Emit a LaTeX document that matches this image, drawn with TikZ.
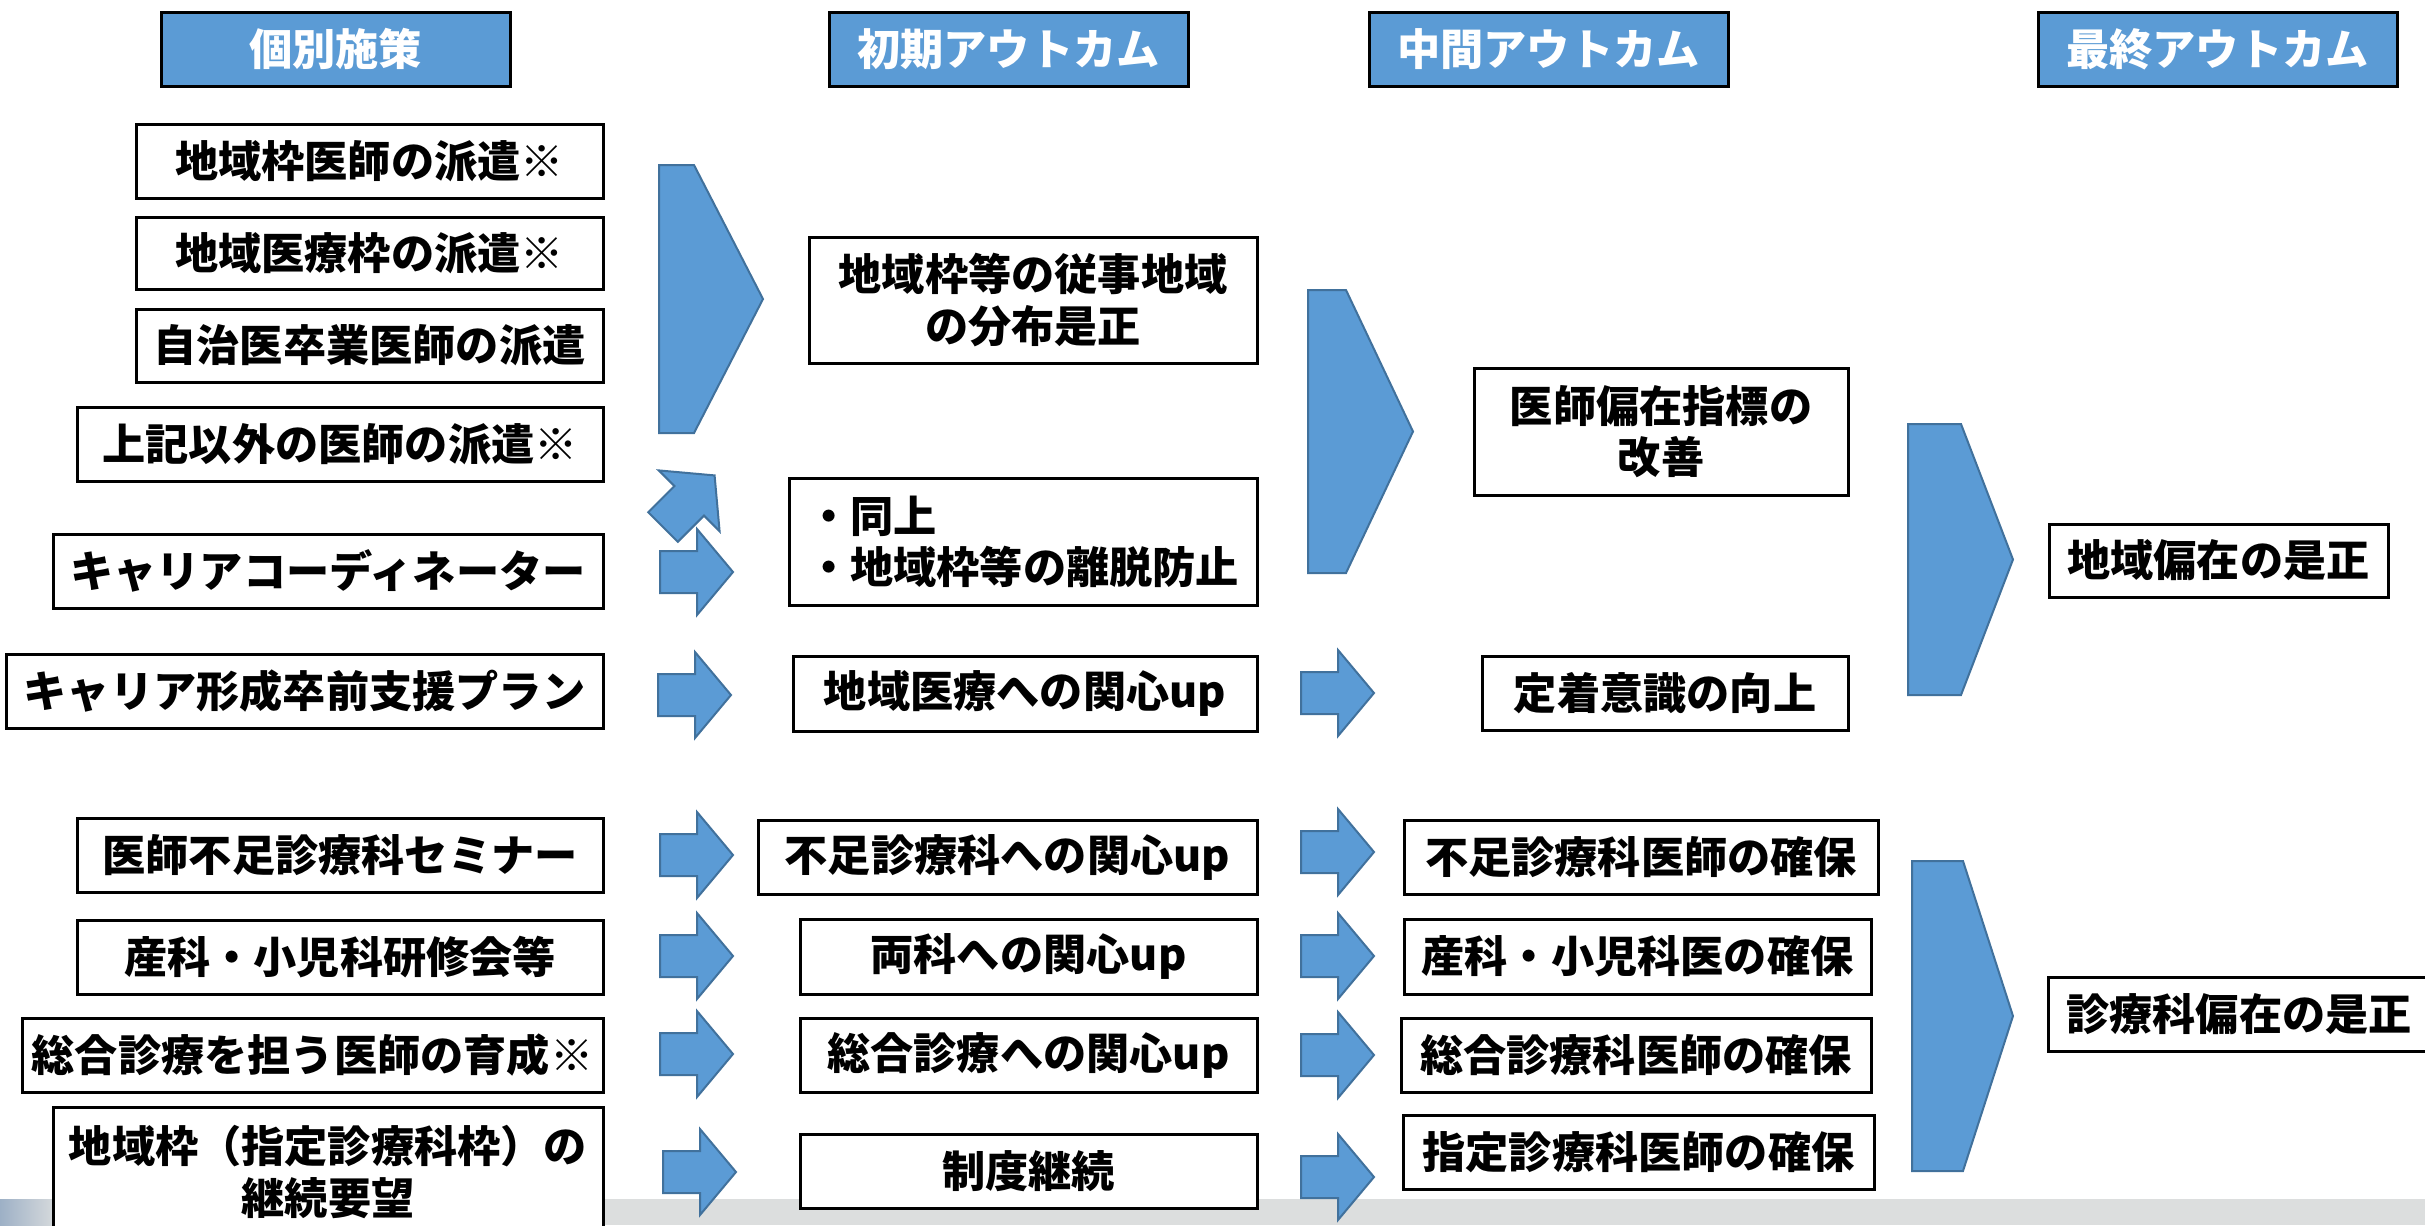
\documentclass[tikz,border=0pt]{standalone}
\usepackage{fontspec}
\setmainfont{Noto Sans CJK JP}
\definecolor{hdrblue}{HTML}{5B9BD5}
\definecolor{arrline}{HTML}{41719C}
\definecolor{stripgray}{HTML}{DCDEDE}
\definecolor{stripblue}{HTML}{9DB0C6}
\newcommand\bx[7]{\node[#1,minimum width={(#4-#3)*0.25pt},minimum height={(#6-#5)*0.25pt}] (#2) at ({(#3+#4)/2},{(#5+#6)/2}) {#7};}
\newcommand\sarr[2]{\draw[blk] (#1,#2-21) -- ++(37,0) -- ++(0,-22) -- (#1+73,#2) -- (#1+37,#2+43) -- ++(0,-22) -- (#1,#2+21) -- cycle;}
\newcommand\barr[5]{\draw[blk] (#1,#4) -- (#2,#4) -- (#3,{(#4+#5)/2}) -- (#2,#5) -- (#1,#5) -- cycle;}
\begin{document}
\begin{tikzpicture}[x=0.25pt,y=-0.25pt,
  txt/.style={font=\fontsize{10.8}{12.8}\selectfont\bfseries},
  box/.style={txt,draw=black,fill=white,line width=0.75pt,inner sep=0pt,outer sep=0pt,align=center},
  lbox/.style={box,align=left},
  hdr/.style={box,fill=hdrblue,text=white},
  blk/.style={fill=hdrblue,draw=arrline,line width=0.5pt,line join=miter}]
\useasboundingbox (0,0) rectangle (2425,1225);
\fill[white] (0,0) rectangle (2425,1225);
% bottom strip
\fill[stripgray] (0,1199) rectangle (2425,1225);
\shade[left color=stripblue,right color=stripgray] (0,1199) rectangle (60,1225);
% headers
\bx{hdr}{h1}{161}{510}{12}{86}{個別施策}
\bx{hdr}{h2}{829}{1188}{12}{86}{初期アウトカム}
\bx{hdr}{h3}{1369}{1728}{12}{86}{中間アウトカム}
\bx{hdr}{h4}{2038}{2397}{12}{86}{最終アウトカム}
% column 1
\bx{box}{a1}{136}{603}{124}{198}{地域枠医師の派遣※}
\bx{box}{a2}{136}{603}{217}{289}{地域医療枠の派遣※}
\bx{box}{a3}{136}{603}{309}{382}{自治医卒業医師の派遣}
\bx{box}{a4}{77}{603}{407}{481}{上記以外の医師の派遣※}
\bx{box}{a5}{53}{603}{534}{608}{キャリアコーディネーター}
\bx{box}{a6}{6}{603}{654}{728}{キャリア形成卒前支援プラン}
\bx{box}{a7}{77}{603}{818}{892}{医師不足診療科セミナー}
\bx{box}{a8}{77}{603}{920}{994}{産科・小児科研修会等}
\bx{box}{a9}{22}{603}{1018}{1092}{総合診療を担う医師の育成※}
\bx{box}{a10}{53}{603}{1107}{1237}{地域枠（指定診療科枠）の\\継続要望}
% column 2
\bx{box}{b1}{809}{1257}{237}{363}{地域枠等の従事地域\\の分布是正}
\bx{lbox}{b2}{789}{1257}{478}{605}{・同上\\・地域枠等の離脱防止}
\bx{box}{b3}{793}{1257}{656}{731}{地域医療への関心up}
\bx{box}{b4}{758}{1257}{820}{894}{不足診療科への関心up}
\bx{box}{b5}{800}{1257}{919}{994}{両科への関心up}
\bx{box}{b6}{800}{1257}{1018}{1092}{総合診療への関心up}
\bx{box}{b7}{800}{1257}{1134}{1208}{制度継続}
% column 3
\bx{box}{c1}{1474}{1848}{368}{495}{医師偏在指標の\\改善}
\bx{box}{c2}{1482}{1848}{656}{730}{定着意識の向上}
\bx{box}{c3}{1404}{1878}{820}{894}{不足診療科医師の確保}
\bx{box}{c4}{1404}{1871}{919}{994}{産科・小児科医の確保}
\bx{box}{c5}{1401}{1871}{1018}{1092}{総合診療科医師の確保}
\bx{box}{c6}{1403}{1874}{1115}{1189}{指定診療科医師の確保}
% column 4
\bx{box}{d1}{2049}{2388}{524}{597}{地域偏在の是正}
\bx{box}{d2}{2048}{2430}{977}{1051}{診療科偏在の是正}
% big arrows
\barr{659}{694}{763}{165}{433}
\barr{1308}{1346}{1413}{290}{573}
\barr{1908}{1961}{2013}{424}{695}
\barr{1912}{1963}{2013}{861}{1171}
% diagonal arrow
\draw[blk] (648.2,512.2) -- (674.4,486) -- (658.8,470.4) -- (714.6,475.4) -- (719.6,531.2) -- (704,515.6) -- (677.8,541.8) -- cycle;
% small arrows
\sarr{660}{572}
\sarr{658}{695}
\sarr{660}{855}
\sarr{660}{956}
\sarr{660}{1054}
\sarr{663}{1172}
\sarr{1301}{693}
\sarr{1301}{852}
\sarr{1301}{956}
\sarr{1301}{1055}
\sarr{1301}{1177}
\end{tikzpicture}
\end{document}
